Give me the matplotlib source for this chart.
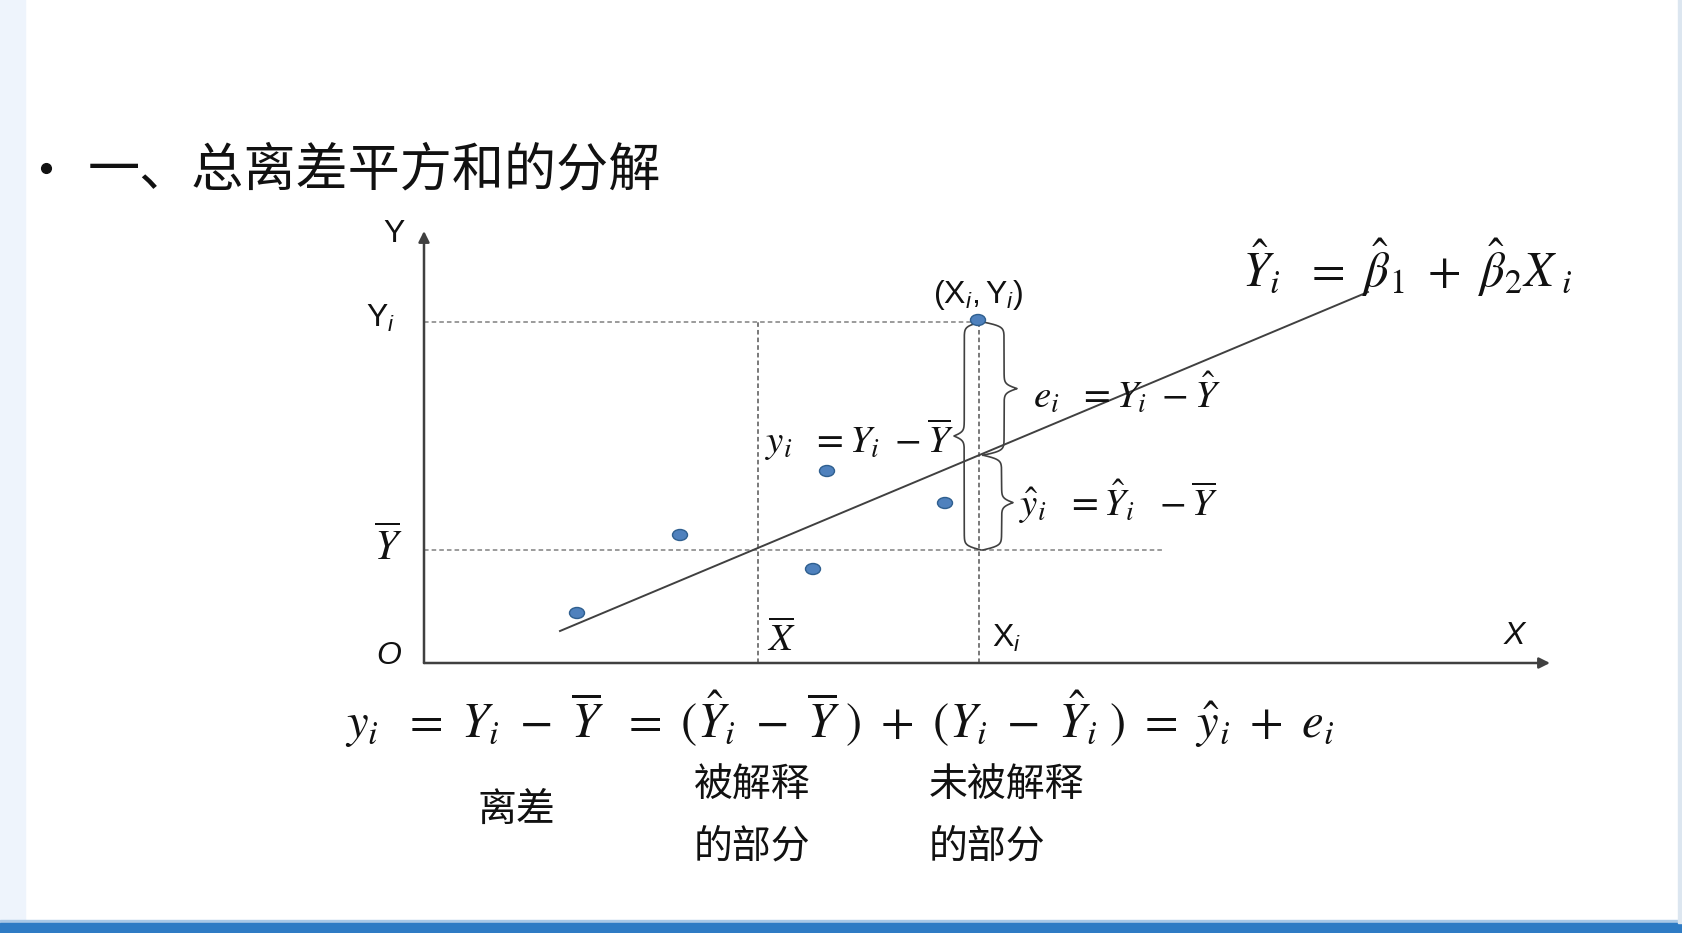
import numpy as np
import matplotlib
matplotlib.use('Agg')
import matplotlib.pyplot as plt
from matplotlib.patches import Ellipse, Rectangle

plt.rcParams['font.family'] = ['Noto Sans CJK SC', 'DejaVu Sans']
plt.rcParams['mathtext.fontset'] = 'stix'
plt.rcParams['mathtext.rm'] = 'Liberation Sans'
plt.rcParams['mathtext.it'] = 'Liberation Sans:italic'
plt.rcParams['mathtext.bf'] = 'Liberation Sans:bold'

# sample points (diagram units, origin at O)
X_PTS = [1.53, 2.56, 4.03, 3.89, 5.21, 5.54]
Y_PTS = [0.50, 1.28, 1.92, 0.94, 1.60, 3.43]
X_BAR, Y_BAR = 3.34, 1.13
X_I, Y_I = 5.55, 3.41
LINE_X = [1.36, 9.44]          # fitted line end points
LINE_Y = [0.32, 3.71]
X_AXIS_END, Y_AXIS_END = 11.26, 4.32
Y_BAR_DASH_END = 7.38

TITLE = '一、总离差平方和的分解'
CAPTIONS = [('离差',), ('被解释', '的部分'), ('未被解释', '的部分')]

INK = '#404040'
DASH = '#808080'

fig = plt.figure(figsize=(16.82, 9.33), dpi=100)
fig.patches.append(Rectangle((0, 10 / 933), 25 / 1682, 1, transform=fig.transFigure,
                             color='#EEF4FC', zorder=0))
fig.patches.append(Rectangle((0, 10 / 933), 1, 3 / 933, transform=fig.transFigure,
                             color='#A9C8E6', zorder=0))
fig.patches.append(Rectangle((0, 0), 1, 10 / 933, transform=fig.transFigure,
                             color='#2E7BC4', zorder=0))
fig.patches.append(Rectangle((1678 / 1682, 10 / 933), 4 / 1682, 1, transform=fig.transFigure,
                             color='#DCE6F0', zorder=0))

ax = fig.add_axes([0, 0, 1, 1])
ax.set_xlim(-4.24, 12.58)
ax.set_ylim(-2.70, 6.63)
ax.axis('off')

# title
ax.plot([-3.78], [4.95], 'o', ms=7, color='#111111')
ax.text(-3.36, 4.92, TITLE, fontsize=37.5, ha='left', va='center', color='#111111')

# axes with arrows
arrow = dict(arrowstyle='-|>', color=INK, lw=1.8, mutation_scale=16, shrinkA=0, shrinkB=0)
ax.annotate('', xy=(X_AXIS_END, 0), xytext=(0, 0), arrowprops=arrow)
ax.annotate('', xy=(0, Y_AXIS_END), xytext=(0, 0), arrowprops=arrow)

# dashed guide lines
dash = dict(color=DASH, lw=1.1, linestyle=(0, (3, 2)))
ax.plot([0, X_I], [Y_I, Y_I], **dash)
ax.plot([0, Y_BAR_DASH_END], [Y_BAR, Y_BAR], **dash)
ax.plot([X_BAR, X_BAR], [0, Y_I], color='#555555', lw=1.1, linestyle=(0, (3, 2)))
ax.plot([X_I, X_I], [0, Y_I], color='#555555', lw=1.1, linestyle=(0, (3, 2)))

# fitted line
ax.plot(LINE_X, LINE_Y, color=INK, lw=1.4)
y_hat_i = np.interp(X_I, LINE_X, LINE_Y)

# points
for x, y in zip(X_PTS, Y_PTS):
    ax.add_patch(Ellipse((x, y), 0.15, 0.11, facecolor='#4F81BD', edgecolor='#2F5F8F',
                         lw=1.0, zorder=5))


def brace(x, y0, y1, w, side, a=0.62, beta=45):
    n = 300
    L = y1 - y0
    u = np.linspace(0, L / 2, n)
    sig = lambda t: 1 / (1 + np.exp(-t))
    v = a * w * (2 * sig(beta * u) - 1) + (1 - a) * w * 2 * sig(beta * (u - L / 2))
    v = np.concatenate([v, v[-2::-1]])
    uu = np.concatenate([u, L - u[-2::-1]])
    ax.plot(x + side * v, y0 + uu, color=INK, lw=1.2)


brace(X_I + 0.02, Y_BAR, Y_I, 0.27, -1)
brace(X_I + 0.04, y_hat_i, Y_I, 0.34, +1)
brace(X_I + 0.04, Y_BAR, y_hat_i, 0.30, +1)

# sans labels
sans = dict(math_fontfamily='custom', color='#111111', fontsize=23)
ax.text(-0.30, 4.29, 'Y', ha='center', va='center', family='Liberation Sans',
        color='#111111', fontsize=23)
ax.text(-0.43, 3.45, r'$\mathrm{Y}_i$', ha='center', va='center', **sans)
ax.text(-0.35, 0.07, 'O', ha='center', va='center', family='Liberation Sans',
        style='italic', color='#111111', fontsize=23)
ax.text(10.90, 0.27, 'X', ha='center', va='center', family='Liberation Sans',
        style='italic', color='#111111', fontsize=23)
ax.text(5.68, 0.25, r'$\mathrm{X}_i$', ha='left', va='center', **sans)
ax.text(5.54, 3.68, r'$(\mathrm{X}_i,\mathrm{Y}_i)$', ha='center', va='center', **sans)

# serif maths
ser = dict(math_fontfamily='stix', color='#111111')
ax.text(-0.36, 1.16, r'$\overline{Y}$', ha='center', va='center', fontsize=30, **ser)
ax.text(3.57, 0.23, r'$\overline{X}$', ha='center', va='center', fontsize=28, **ser)
ax.text(5.30, 2.23, r'$y_i\ \ = Y_i\ - \overline{Y}$', ha='right', va='center',
        fontsize=28, **ser)
ax.text(6.09, 2.69, r'$e_i\ \ = Y_i\ - \hat{Y}$', ha='left', va='center', fontsize=28, **ser)
ax.text(5.95, 1.61, r'$\hat{y}_i\ \ = \hat{Y}_i\ \ - \overline{Y}$', ha='left', va='center',
        fontsize=28, **ser)
ax.text(8.18, 3.95, r'$\hat{Y}_i\ \ =\ \hat{\beta}_1\ +\ \hat{\beta}_2 X_{\ i}$', ha='left',
        va='center', fontsize=35, **ser)
ax.text(-0.79, -0.56,
        r'$y_i\ \ =\ Y_i\ -\ \overline{Y}\ \ =\ (\hat{Y}_i\ -\ \overline{Y}\ )\ +\ '
        r'(Y_i\ -\ \hat{Y}_i\ )\ =\ \hat{y}_i\ +\ e_i$',
        ha='left', va='center', fontsize=35, **ser)

# captions
ax.text(0.92, -1.47, CAPTIONS[0][0], ha='center', va='center', fontsize=28, color='#111111')
for x0, lines in zip([2.70, 5.05], CAPTIONS[1:]):
    for k, line in enumerate(lines):
        ax.text(x0, -1.23 - 0.60 * k, line, ha='left', va='center', fontsize=28,
                color='#111111')

fig.savefig('out.png', dpi=100)
